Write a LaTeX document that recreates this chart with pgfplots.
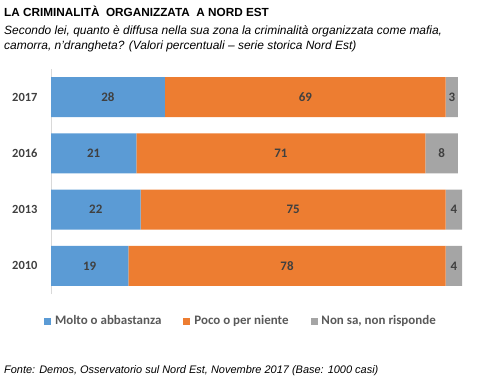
\documentclass[border=0pt]{standalone}
\usepackage{pgfplots}
\pgfplotsset{compat=1.18}
\usepackage{fontspec}
\setmainfont{Liberation Sans}
\newfontfamily\calib{Carlito}
\definecolor{cblue}{HTML}{5B9BD5}
\definecolor{corange}{HTML}{ED7D31}
\definecolor{cgray}{HTML}{A5A5A5}
\definecolor{labgray}{HTML}{404040}
\definecolor{leggray}{HTML}{595959}
\definecolor{axgray}{HTML}{D9D9D9}
\pgfplotsset{sq legend/.style={legend image code/.code={\fill[##1] (0bp,-3.5bp) rectangle (7bp,3.5bp);}}}
\begin{document}
\begin{tikzpicture}
\path[use as bounding box] (0,0) rectangle (478bp,-381bp);
\node[anchor=base west, inner sep=0, font=\bfseries\fontsize{11.8}{14}\selectfont] at (4bp,-16bp) {LA CRIMINALITÀ\ \ ORGANIZZATA\ \ A NORD EST};
\node[anchor=base west, inner sep=0, font=\itshape\fontsize{12}{14}\selectfont] at (4bp,-34bp) {Secondo lei, quanto è diffusa nella sua zona la criminalità organizzata come mafia,};
\node[anchor=base west, inner sep=0, font=\itshape\fontsize{12}{14}\selectfont] at (4bp,-49bp) {camorra, n’drangheta? (Valori percentuali – serie storica Nord Est)};
\node[anchor=base west, inner sep=0, font=\itshape\fontsize{11}{13}\selectfont] at (4bp,-373bp) {Fonte: Demos, Osservatorio sul Nord Est, Novembre 2017 (Base: 1000 casi)};
\begin{axis}[
  at={(51bp,-294bp)}, anchor=south west,
  scale only axis, width=411bp, height=225bp,
  xbar stacked, bar width=40bp,
  xmin=0, xmax=101, ymin=-0.5, ymax=3.5,
  axis x line=none,
  axis y line*=left,
  y axis line style={draw=axgray, line width=0.8pt, -},
  ytick={0,1,2,3}, yticklabels={2010,2013,2016,2017},
  major tick length=0pt, ytick style={draw=none},
  yticklabel style={font=\calib\bfseries\fontsize{12.5}{14}\selectfont, text=labgray, xshift=-10bp},
  /pgf/number format/assume math mode=true,
  visualization depends on=rawx\as\rawx,
  nodes near coords={\calib\bfseries\pgfmathprintnumber[assume math mode=true]{\rawx}},
  every node near coord/.append style={font=\calib\bfseries\fontsize{13}{15}\selectfont, text=labgray, anchor=center},
  legend style={at={(0.462,-0.12)}, anchor=center, draw=none, legend columns=3,
    font=\calib\bfseries\fontsize{13}{15}\selectfont, text=leggray,
    /tikz/every odd column/.append style={column sep=2bp},
    /tikz/every even column/.append style={column sep=20bp}},
]
\addplot[fill=cblue, draw=none, sq legend] coordinates {(19,0) (22,1) (21,2) (28,3)};
\addplot[fill=corange, draw=none, sq legend] coordinates {(78,0) (75,1) (71,2) (69,3)};
\addplot[fill=cgray, draw=none, sq legend] coordinates {(4,0) (4,1) (8,2) (3,3)};
\legend{Molto o abbastanza, Poco o per niente, {Non sa, non risponde}}
\end{axis}
\end{tikzpicture}
\end{document}
